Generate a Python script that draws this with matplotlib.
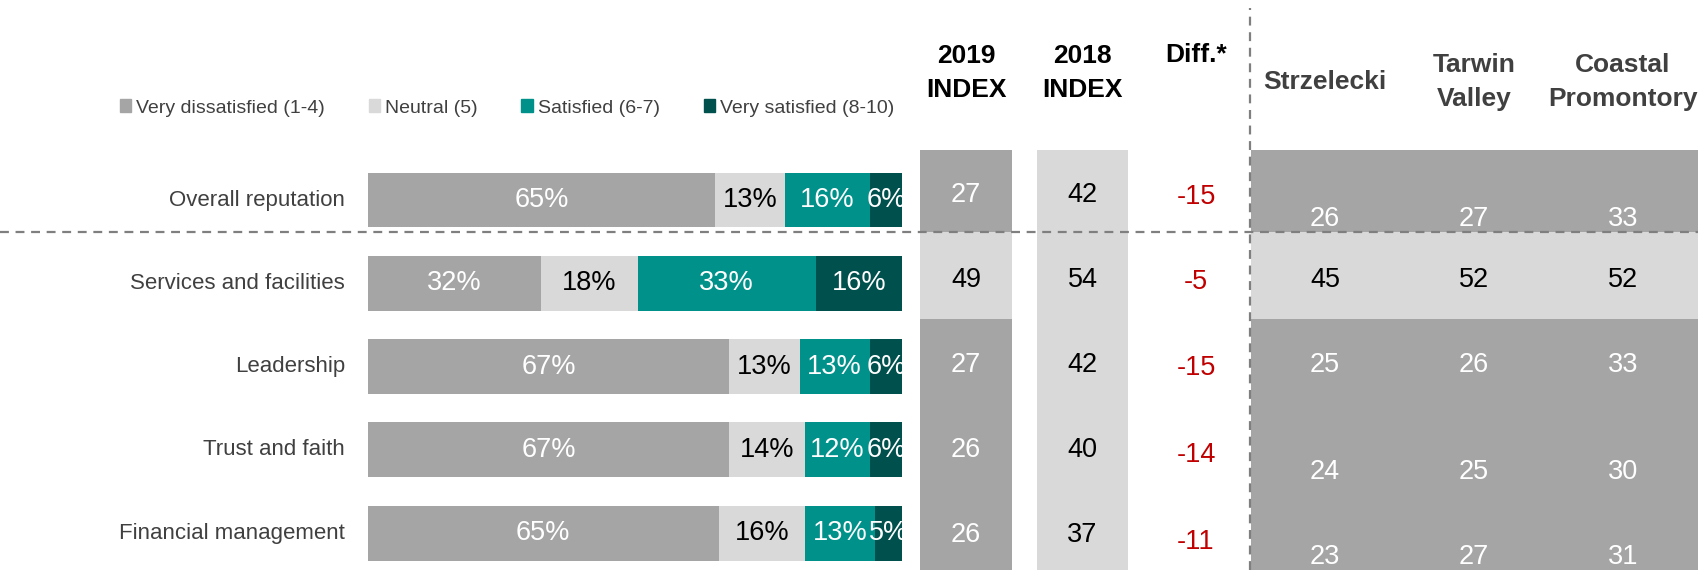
import numpy as np
import matplotlib
matplotlib.use("Agg")
import matplotlib.pyplot as plt
from matplotlib.patches import Patch

plt.rcParams['font.family'] = ['Liberation Sans', 'DejaVu Sans']

# --- data ---
categories = ["Overall reputation", "Services and facilities", "Leadership",
              "Trust and faith", "Financial management"]
series_names = ["Very dissatisfied (1-4)", "Neutral (5)", "Satisfied (6-7)", "Very satisfied (8-10)"]
very_dissatisfied = [65, 32, 67, 67, 65]
neutral = [13, 18, 13, 14, 16]
satisfied = [16, 33, 13, 12, 13]
very_satisfied = [6, 16, 6, 6, 5]

index_2019 = [27, 49, 27, 26, 26]
index_2018 = [42, 54, 42, 40, 37]
diff = [-15, -5, -15, -14, -11]

regions = ["Strzelecki", "Tarwin\nValley", "Coastal\nPromontory"]
strzelecki = [26, 45, 25, 24, 23]
tarwin_valley = [27, 52, 26, 25, 27]
coastal_promontory = [33, 52, 33, 30, 31]

# shading of the 2019 and region cells (True = dark grey)
dark_2019 = [True, False, True, True, True]
dark_region = [True, False, True, True, True]

# --- styling ---
seg_colors = ["#A5A5A5", "#D9D9D9", "#00918A", "#00504D"]
seg_text = ["white", "black", "white", "white"]
DARK, LIGHT = "#A5A5A5", "#D9D9D9"
TXT = "#404040"
VAL_FS = 19.5

W, H = 1698, 570
fig = plt.figure(figsize=(W / 100, H / 100), dpi=100)

# row units: row i centred at 200 + 83.3*i px
row_px = 83.3
ylim = ((H - 200) / row_px, -200 / row_px)

# stacked bars
ax = fig.add_axes([368 / W, 0, (902 - 368) / W, 1])
ax.set_ylim(*ylim)
ax.set_xlim(0, 100)
ax.axis("off")

data = np.array([very_dissatisfied, neutral, satisfied, very_satisfied], dtype=float)
shares = data / data.sum(axis=0) * 100
y = np.arange(len(categories))
left = np.zeros(len(categories))
for k in range(4):
    ax.barh(y, shares[k], left=left, height=0.66, color=seg_colors[k], label=series_names[k])
    for i in range(len(categories)):
        ax.text(left[i] + shares[k][i] / 2, y[i], f"{int(data[k][i])}%", ha="center", va="center",
                fontsize=VAL_FS, color=seg_text[k])
    left += shares[k]

for i, c in enumerate(categories):
    ax.text(-23 / 534 * 100, y[i], c, ha="right", va="center", fontsize=16, color=TXT)

# table part, x in pixels, y in row units
tab = fig.add_axes([0, 0, 1, 1])
tab.set_xlim(0, W)
tab.set_ylim(*ylim)
tab.axis("off")
tab.set_zorder(-1)

edges = [-0.6, 0.385, 1.43, 2.43, 3.43, 4.6]
x2019, x2018, xdiff = 966, 1082.5, 1196
reg_x = [1325, 1474, 1623]
reg_left = 1251

off_idx = [-0.06, -0.04, -0.02, 0.0, 0.02]
off_diff = [-0.04, -0.01, 0.02, 0.06, 0.11]
off_reg = [0.23, -0.04, -0.02, 0.26, 0.29]

for i in range(len(categories)):
    b, h = edges[i], edges[i + 1] - edges[i]
    tab.bar(x2019, h, bottom=b, width=92, color=DARK if dark_2019[i] else LIGHT)
    tab.bar(x2018, h, bottom=b, width=91, color=LIGHT)
    tab.bar(reg_left, h, bottom=b, width=W - reg_left, align="edge",
            color=DARK if dark_region[i] else LIGHT)
    tab.text(x2019, i + off_idx[i], str(index_2019[i]), ha="center", va="center", fontsize=VAL_FS,
             color="white" if dark_2019[i] else "black")
    tab.text(x2018, i + off_idx[i], str(index_2018[i]), ha="center", va="center", fontsize=VAL_FS,
             color="black")
    tab.text(xdiff, i + off_diff[i], str(diff[i]), ha="center", va="center", fontsize=VAL_FS,
             color="#C00000")
    for rx, vals in zip(reg_x, [strzelecki, tarwin_valley, coastal_promontory]):
        tab.text(rx, i + off_reg[i], str(vals[i]), ha="center", va="center", fontsize=VAL_FS,
                 color="white" if dark_region[i] else "black")

# dashed separators
tab.axhline(edges[1], color="#7F7F7F", lw=1.6, ls=(0, (4, 3)), zorder=5)
tab.plot([1250, 1250], [ylim[0], (8 - 200) / row_px], color="#7F7F7F", lw=1.6,
         ls=(0, (4, 3)), zorder=5)

# headers
hdr = dict(ha="center", va="center", fontsize=19, fontweight="bold", linespacing=1.5)
fig.text(x2019 / W, 1 - 73 / H, "2019\nINDEX", color="black", **hdr)
fig.text(x2018 / W, 1 - 73 / H, "2018\nINDEX", color="black", **hdr)
fig.text(xdiff / W, 1 - 55 / H, "Diff.*", color="black", **hdr)
for rx, name in zip(reg_x, regions):
    fig.text(rx / W, 1 - 82 / H, name, color=TXT, **hdr)

# legend
handles = [Patch(color=c) for c in seg_colors]
fig.legend(handles, series_names, loc="center", bbox_to_anchor=(507 / W, 1 - 108 / H), ncol=4,
           frameon=False, fontsize=14, handlelength=0.6, handleheight=0.6, handletextpad=0.25,
           columnspacing=2.25, labelcolor=TXT)

fig.savefig("out.png", dpi=100)
